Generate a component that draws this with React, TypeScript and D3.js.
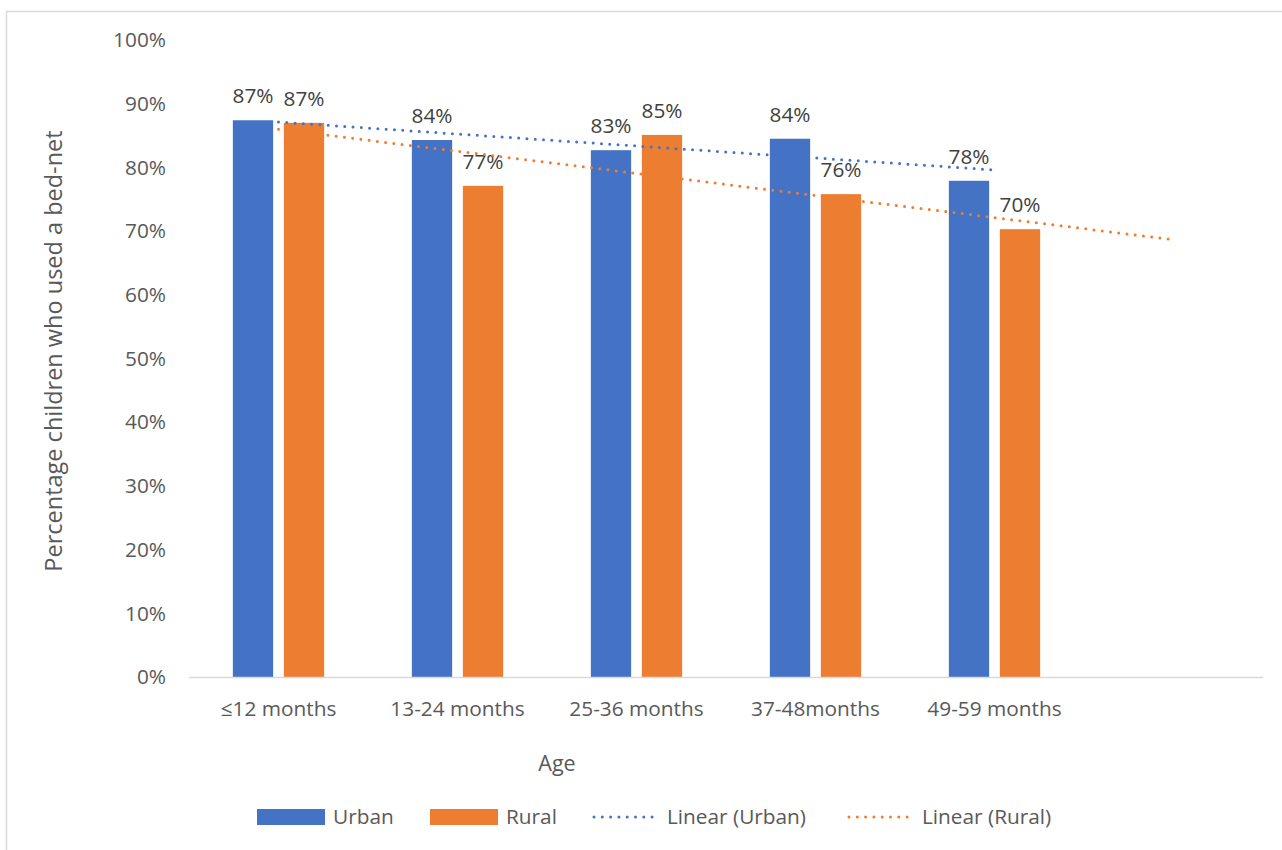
import React from "react"
import * as d3 from "d3"

// values (percent)
const categories = ["≤12 months", "13-24 months", "25-36 months", "37-48months", "49-59 months"]
const seriesNames = ["Urban", "Rural"]
const urban = [87.4, 84.3, 82.7, 84.5, 77.9]
const rural = [87.0, 77.1, 85.1, 75.8, 70.3]
const dataLabels = { Urban: ["87%", "84%", "83%", "84%", "78%"], Rural: ["87%", "77%", "85%", "76%", "70%"] }
const yTicks = [0, 10, 20, 30, 40, 50, 60, 70, 80, 90, 100]
// rural trendline has one period forecast forward
const forecast = { Urban: 0, Rural: 1 }

const colors = { Urban: "#4472C4", Rural: "#ED7D31" }
const font = "'Open Sans', sans-serif"
const fs = 20.8

// least squares fit over x = 1..n
function linearFit(values: number[]) {
  const xs = values.map((_, i) => i + 1)
  const mx = d3.mean(xs)!
  const my = d3.mean(values)!
  const slope = d3.sum(xs, (x, i) => (x - mx) * (values[i] - my)) / d3.sum(xs, x => (x - mx) ** 2)
  return (x: number) => my + slope * (x - mx)
}

export default function App() {
  const W = 1282, H = 850
  const left = 189, right = 1263, top = 40, bottom = 677

  // 6 slots: 5 categories plus the empty forecast slot
  const x = d3.scaleBand<number>().domain(d3.range(categories.length + 1)).range([left, right])
  const x1 = d3.scaleBand<string>().domain(seriesNames).range([0, 91.3]).paddingInner(0.21)
  const y = d3.scaleLinear().domain([0, 100]).range([bottom, top])

  const clusterOffset = (x.bandwidth() - x1.range()[1]) / 2
  const series: Record<string, number[]> = { Urban: urban, Rural: rural }

  const line = d3.line<[number, number]>().x(d => d[0]).y(d => d[1])

  const trend = (name: string) => {
    const f = linearFit(series[name])
    const n = series[name].length + forecast[name as "Urban" | "Rural"]
    const pts: [number, number][] = [1, n].map(i => [x(i - 1)! + x.bandwidth() / 2, y(f(i))])
    return line(pts)!
  }

  const legend = [
    { name: "Urban", kind: "bar", x: 257, tx: 333 },
    { name: "Rural", kind: "bar", x: 430, tx: 506 },
    { name: "Urban", label: "Linear (Urban)", kind: "line", x: 592, tx: 667 },
    { name: "Rural", label: "Linear (Rural)", kind: "line", x: 847, tx: 922 },
  ]

  return (
    <svg width={W} height={H} style={{ position: "absolute", left: 0, top: 0, background: "#fff" }} fontFamily={font}>
      <rect x={6.5} y={11.5} width={W} height={H} fill="none" stroke="#D9D9D9" strokeWidth={1.5} />

      {/* y axis tick labels */}
      {yTicks.map(t => (
        <text key={t} x={166} y={y(t)} dy="0.35em" textAnchor="end" fontSize={fs} fill="#595959">{t}%</text>
      ))}

      {/* bars */}
      {seriesNames.map(name =>
        series[name].map((v, i) => {
          const bx = x(i)! + clusterOffset + x1(name)!
          return (
            <g key={name + i}>
              <rect x={bx} y={y(v)} width={x1.bandwidth()} height={bottom - y(v)} fill={colors[name as "Urban"]} />
              <text x={bx + x1.bandwidth() / 2} y={y(v) - 17} textAnchor="middle" fontSize={fs} fill="#404040">
                {dataLabels[name as "Urban"][i]}
              </text>
            </g>
          )
        })
      )}

      {/* x axis */}
      <line x1={left} x2={right} y1={bottom + 0.5} y2={bottom + 0.5} stroke="#D9D9D9" strokeWidth={1.5} />
      {categories.map((c, i) => (
        <text key={c} x={x(i)! + x.bandwidth() / 2} y={716} textAnchor="middle" fontSize={fs} fill="#595959">{c}</text>
      ))}

      {/* trendlines */}
      {seriesNames.map(name => (
        <path key={name} d={trend(name)} fill="none" stroke={colors[name as "Urban"]} strokeWidth={3}
          strokeLinecap="round" strokeDasharray="0 8.3" />
      ))}

      {/* axis titles */}
      <text x={557} y={771} textAnchor="middle" fontSize={21.5} fill="#595959">Age</text>
      <text transform="translate(62,351) rotate(-90)" textAnchor="middle" fontSize={23.5} fill="#595959">
        Percentage children who used a bed-net
      </text>

      {/* legend */}
      {legend.map((d, i) => (
        <g key={i}>
          {d.kind === "bar" ? (
            <rect x={d.x} y={809} width={68} height={16} fill={colors[d.name as "Urban"]} />
          ) : (
            <line x1={d.x + 2} x2={d.x + 68} y1={817} y2={817} stroke={colors[d.name as "Urban"]} strokeWidth={3}
              strokeLinecap="round" strokeDasharray="0 8.3" />
          )}
          <text x={d.tx} y={824} fontSize={fs} fill="#595959">{d.label ?? d.name}</text>
        </g>
      ))}
    </svg>
  )
}
